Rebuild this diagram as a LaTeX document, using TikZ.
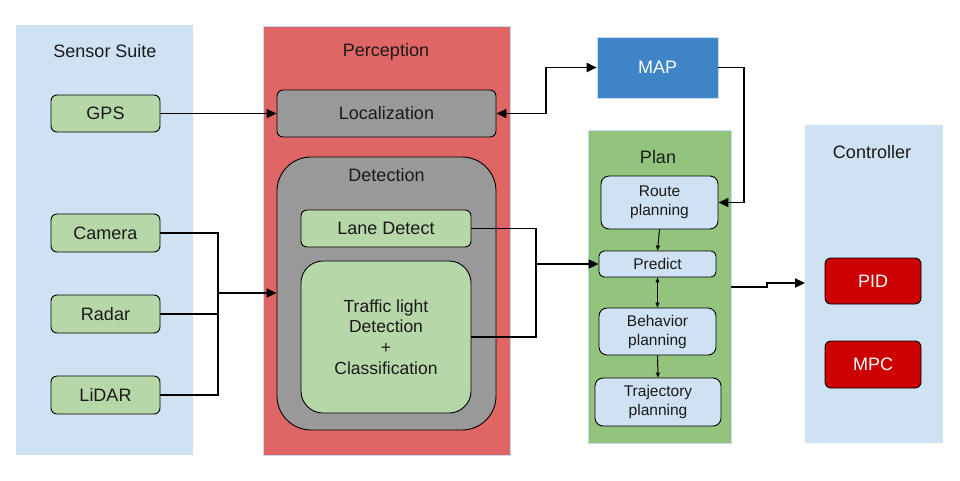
\documentclass[tikz,border=0pt]{standalone}
\usepackage{fontspec}
\setmainfont{Liberation Sans}
\usetikzlibrary{arrows.meta}
\definecolor{sensorbg}{HTML}{CFE2F3}
\definecolor{percbg}{HTML}{E06666}
\definecolor{grayb}{HTML}{999999}
\definecolor{greenb}{HTML}{B6D7A8}
\definecolor{mapblue}{HTML}{3D85C6}
\definecolor{planbg}{HTML}{93C47D}
\definecolor{redb}{HTML}{CC0000}
\definecolor{edgeb}{HTML}{C9DAF8}
\definecolor{txt}{HTML}{1A1A1A}
\tikzset{
  panel/.style={draw=edgeb, line width=0.6pt, anchor=north west, inner sep=0pt},
  title/.style={font=\fontsize{18}{20}\selectfont, text=txt},
  box/.style={draw=black, line width=0.9pt, rounded corners=6pt, align=center, inner sep=2pt,
    font=\fontsize{18}{20.8}\selectfont, text=txt},
  gbox/.style={box, fill=greenb},
  pbox/.style={box, fill=sensorbg, rounded corners=8pt, font=\fontsize{15.5}{19}\selectfont},
  rbox/.style={box, fill=redb, text=white},
  wire/.style={line width=1.8pt},
  arr/.style={line width=1.8pt, -{Triangle[length=10pt,width=9pt]}},
  darr/.style={line width=1.8pt, {Triangle[length=10pt,width=9pt]}-{Triangle[length=10pt,width=9pt]}},
  tarr/.style={line width=1pt, -{Triangle[length=5pt,width=4pt]}},
  tdarr/.style={line width=1pt, {Triangle[length=5pt,width=4pt]}-{Triangle[length=5pt,width=4pt]}},
}
\begin{document}
\begin{tikzpicture}[x=1pt,y=-1pt]
\useasboundingbox (0,0) rectangle (960,480);
% panels
\node[panel, fill=sensorbg, draw=none, minimum width=177pt, minimum height=430pt] (sensor) at (16,25) {};
\node[panel, fill=percbg, minimum width=247pt, minimum height=429pt] (perc) at (263,26) {};
\node[panel, fill=planbg, minimum width=143pt, minimum height=313pt] (plan) at (588,130) {};
\node[panel, fill=sensorbg, draw=none, minimum width=138pt, minimum height=318pt] (ctrl) at (805,125) {};
% titles
\node[title] (tsensor) at (105,51) {Sensor Suite};
\node[title] (tperc) at (386,52) {Perception};
\node[title] (tplan) at (658,157) {Plan};
\node[title] (tctrl) at (872,152) {Controller};
% sensors
\node[gbox, minimum width=109pt, minimum height=37pt] (gps) at (105.5,113.5) {GPS};
\node[gbox, minimum width=109pt, minimum height=38pt] (cam) at (105.5,233) {Camera};
\node[gbox, minimum width=109pt, minimum height=38pt] (radar) at (105.5,314) {Radar};
\node[gbox, minimum width=109pt, minimum height=38pt] (lidar) at (105.5,395) {LiDAR};
% perception
\node[box, fill=grayb, minimum width=219pt, minimum height=47pt] (loc) at (386.5,113.5) {Localization};
\node[box, fill=grayb, rounded corners=34pt, minimum width=219pt, minimum height=273pt] (det) at (386.5,293.5) {};
\node[title] (tdet) at (386.5,175) {Detection};
\node[gbox, minimum width=170pt, minimum height=37pt] (lane) at (386,228.5) {Lane Detect};
\node[gbox, rounded corners=22pt, minimum width=170pt, minimum height=152pt, font=\fontsize{17.5}{20.8}\selectfont] (traffic) at (386,337) {Traffic light\\Detection\\+\\Classification};
% map
\node[draw=edgeb, line width=0.6pt, fill=mapblue, text=white, minimum width=121pt, minimum height=61pt, font=\fontsize{18}{20}\selectfont] (map) at (657.5,67.5) {MAP};
% plan boxes
\node[pbox, minimum width=117pt, minimum height=53pt] (route) at (659.5,202.5) {Route\\planning};
\node[pbox, rounded corners=5pt, minimum width=117pt, minimum height=26pt] (predict) at (657.5,264) {Predict};
\node[pbox, minimum width=117pt, minimum height=47pt] (behav) at (657.5,331.5) {Behavior\\planning};
\node[pbox, minimum width=126pt, minimum height=48pt] (traj) at (658,402) {Trajectory\\planning};
% controller
\node[rbox, minimum width=96pt, minimum height=46pt] (pid) at (873,281) {PID};
\node[rbox, minimum width=96pt, minimum height=47pt] (mpc) at (873,364.5) {MPC};
% connectors
\draw[arr] (gps.east) -- (loc.west);
\coordinate (j1) at (218,293);
\draw[wire] (cam.east) -| (j1);
\draw[wire] (lidar.east) -| (j1);
\draw[wire] (radar.east) -- (radar.east -| j1);
\draw[arr] (j1) -- (j1 -| det.west);
\coordinate (j2) at (536,264);
\draw[wire] (lane.east) -| (j2);
\draw[wire] (traffic.east) -| (j2);
\draw[arr] (j2) -- (predict.west);
\coordinate (j3) at (546,0);
\draw[darr] (loc.east) -- (j3 |- loc.east) -- (j3 |- map.west) -- (map.west);
\coordinate (j4) at (744,0);
\draw[arr] (map.east) -- (j4 |- map.east) -- (j4 |- route.east) -- (route.east);
\draw[tarr] (route.south) -- (predict.north);
\draw[tdarr] (predict.south) -- (behav.north);
\draw[tarr] (behav.south) -- (traj.north);
\coordinate (p1) at (731,287);
\coordinate (p2) at (767,287);
\coordinate (p3) at (767,283);
\draw[arr] (p1) -- (p2) -- (p3) -- (p3 -| ctrl.west);
\end{tikzpicture}
\end{document}
